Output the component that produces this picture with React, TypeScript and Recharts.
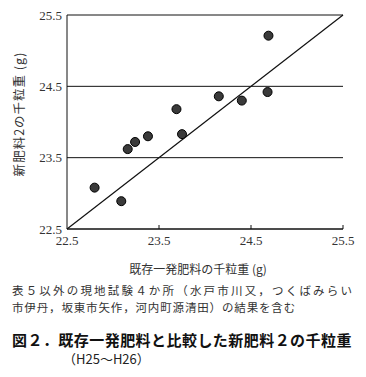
import { ScatterChart, Scatter, XAxis, YAxis, CartesianGrid, ReferenceLine } from "recharts";

// 千粒重 (g): 既存一発肥料 (x) vs 新肥料2 (y)
const oldFertWeight = [22.8, 23.09, 23.16, 23.24, 23.38, 23.69, 23.75, 24.15, 24.4, 24.68, 24.69];
const newFertWeight = [23.08, 22.89, 23.62, 23.72, 23.8, 24.18, 23.83, 24.36, 24.3, 24.42, 25.21];
const axisTicks = [22.5, 23.5, 24.5, 25.5];
const diagonal = [22.5, 25.5];

const xLabel = "既存一発肥料の千粒重 (g)";
const yLabel = "新肥料2の千粒重 (g)";
const noteLines = [
  "表５以外の現地試験４か所（水戸市川又，つくばみらい",
  "市伊丹，坂東市矢作，河内町源清田）の結果を含む",
];
const title = "図２．既存一発肥料と比較した新肥料２の千粒重";
const subTitle = "（H25～H26）";

const points = oldFertWeight.map((x, i) => ({ x, y: newFertWeight[i] }));

const serif = "'Liberation Serif', 'DejaVu Serif', serif";
const jp = "'Noto Sans CJK JP', sans-serif";
const X_TICK_MARGIN = 7;

function XTick(props: any) {
  const { x, y, payload } = props;
  const axisY = y - X_TICK_MARGIN;
  return (
    <g>
      {payload.value > diagonal[0] && (
        <line x1={x} x2={x} y1={axisY} y2={axisY - 4} stroke="#111" />
      )}
      <text x={x} y={y} dy="0.71em" textAnchor="middle" fontFamily={serif} fontSize={13} fill="#333">
        {payload.value.toFixed(1)}
      </text>
    </g>
  );
}

function Dot(props: any) {
  const { cx, cy } = props;
  return <circle cx={cx} cy={cy} r={4.5} fill="#3a3a3a" stroke="#000" strokeWidth={1} />;
}

export default function App() {
  return (
    <div style={{ position: "absolute", left: 0, top: 0, width: 366, height: 377, background: "#fff" }}>
      <ScatterChart width={366} height={250} margin={{ top: 15, right: 23, left: 0, bottom: 0 }}>
        <CartesianGrid vertical={false} stroke="#111" />
        <XAxis
          type="number"
          dataKey="x"
          domain={[22.5, 25.5]}
          ticks={axisTicks}
          interval={0}
          height={21}
          tickSize={0}
          tickMargin={X_TICK_MARGIN}
          axisLine={{ stroke: "#111" }}
          tick={<XTick />}
        />
        <YAxis
          type="number"
          dataKey="y"
          domain={[22.5, 25.5]}
          ticks={axisTicks}
          interval={0}
          width={67}
          tickSize={0}
          tickMargin={5}
          axisLine={{ stroke: "#111" }}
          tick={{ fontFamily: serif, fontSize: 13, fill: "#333" }}
          tickFormatter={(v: number) => v.toFixed(1)}
        />
        <ReferenceLine
          segment={[
            { x: diagonal[0], y: diagonal[0] },
            { x: diagonal[1], y: diagonal[1] },
          ]}
          stroke="#111"
          strokeWidth={1.2}
          ifOverflow="visible"
        />
        <Scatter data={points} shape={<Dot />} isAnimationActive={false} />
      </ScatterChart>

      <div
        style={{
          position: "absolute",
          left: 19 - 80,
          top: 114 - 7,
          width: 160,
          height: 14,
          lineHeight: "14px",
          textAlign: "center",
          transform: "rotate(-90deg)",
          fontFamily: jp,
          fontSize: 12.5,
          letterSpacing: 1,
          color: "#333",
          whiteSpace: "nowrap",
        }}
      >
        {yLabel}
      </div>

      <div
        style={{
          position: "absolute",
          left: 198 - 100,
          top: 262,
          width: 200,
          lineHeight: "14px",
          textAlign: "center",
          fontFamily: jp,
          fontSize: 12,
          color: "#333",
          whiteSpace: "nowrap",
        }}
      >
        {xLabel}
      </div>

      <div
        style={{
          position: "absolute",
          left: 12,
          top: 283,
          width: 340,
          lineHeight: "14px",
          textAlign: "justify",
          textAlignLast: "justify",
          fontFamily: jp,
          fontSize: 11.5,
          color: "#333",
          whiteSpace: "nowrap",
        }}
      >
        {noteLines[0]}
      </div>
      <div
        style={{
          position: "absolute",
          left: 12,
          top: 300,
          lineHeight: "14px",
          fontFamily: jp,
          fontSize: 11.5,
          letterSpacing: 0.85,
          color: "#333",
          whiteSpace: "nowrap",
        }}
      >
        {noteLines[1]}
      </div>

      <div
        style={{
          position: "absolute",
          left: 12,
          top: 331,
          lineHeight: "18px",
          fontFamily: jp,
          fontSize: 15,
          fontWeight: 700,
          letterSpacing: 0.45,
          color: "#111",
          whiteSpace: "nowrap",
        }}
      >
        {title}
      </div>
      <div
        style={{
          position: "absolute",
          left: 63,
          top: 351,
          lineHeight: "16px",
          fontFamily: jp,
          fontSize: 13,
          color: "#222",
          whiteSpace: "nowrap",
        }}
      >
        {subTitle}
      </div>
    </div>
  );
}
